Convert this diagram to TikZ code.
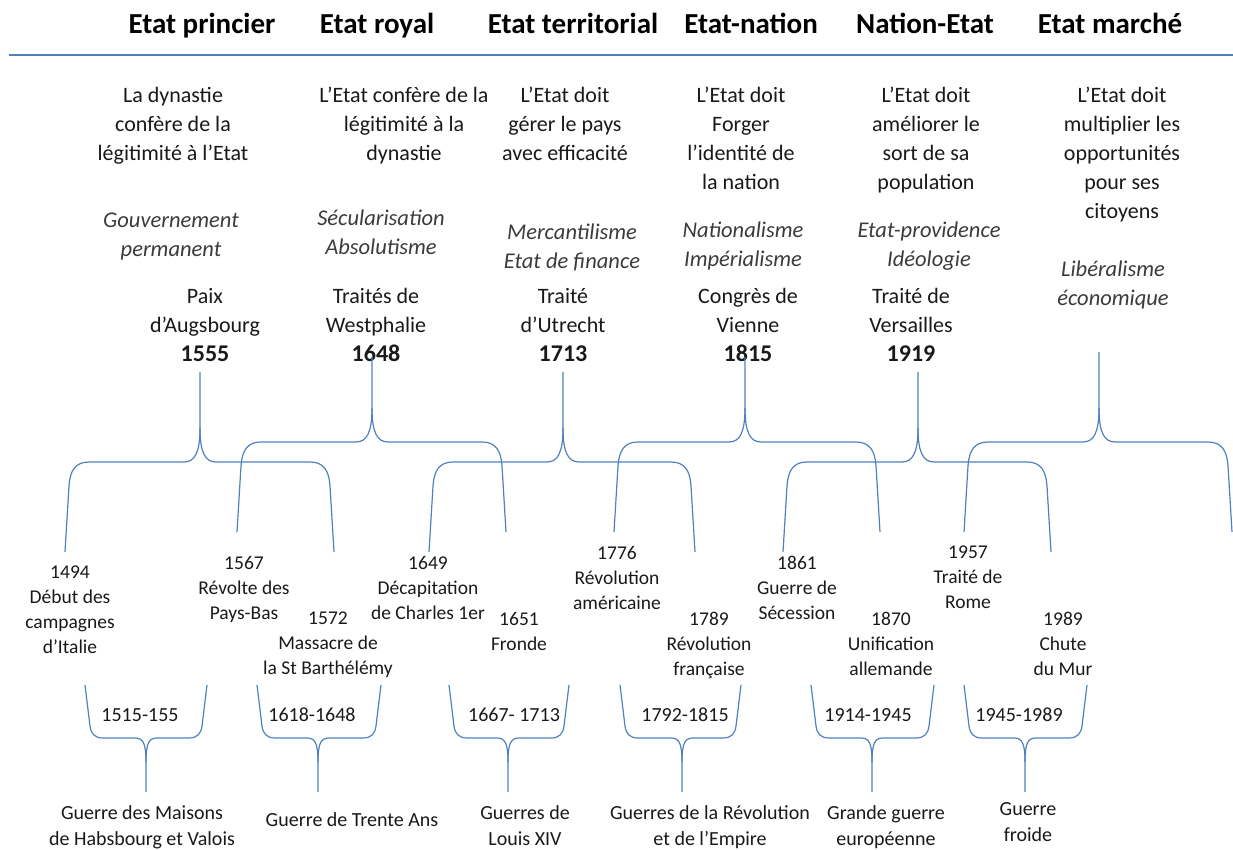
\documentclass[tikz,border=0pt]{standalone}
\usepackage{fontspec}
\setmainfont{Carlito}
\usepackage{tikz}
\usetikzlibrary{positioning}
\definecolor{lineblue}{RGB}{79,129,189}
\definecolor{ink}{RGB}{25,25,25}
\newcommand{\yr}[1]{{\fontsize{24}{29}\selectfont\bfseries #1}}
% brace opening downwards, tip on top: left x, right x, tip x, bar y, tip top y
\newcommand{\upbrace}[5]{%
  \draw[curly] (#1,#4+90) -- (#1+4,#4+24) .. controls (#1+5,#4+9) and (#1+10,#4) .. (#1+24,#4)
    -- (#3-16,#4) .. controls (#3-5,#4) and (#3,#4-10) .. (#3,#4-34) -- (#3,#5);
  \draw[curly] (#2,#4+90) -- (#2-4,#4+24) .. controls (#2-5,#4+9) and (#2-10,#4) .. (#2-24,#4)
    -- (#3+16,#4) .. controls (#3+5,#4) and (#3,#4-10) .. (#3,#4-34);
}
% brace opening upwards, tip below: left x, right x, tip x
\newcommand{\downbrace}[3]{%
  \draw[curly] (#1,685) -- (#1+5,726) .. controls (#1+6,734) and (#1+10,738) .. (#1+18,738)
    -- (#3-11,738) .. controls (#3-3,738) and (#3,743) .. (#3,762) -- (#3,792);
  \draw[curly] (#2,685) -- (#2-5,726) .. controls (#2-6,734) and (#2-10,738) .. (#2-18,738)
    -- (#3+11,738) .. controls (#3+3,738) and (#3,743) .. (#3,762);
}
\tikzset{
  hdr/.style={ font=\fontsize{29}{34}\selectfont\bfseries, anchor=base, inner sep=0pt, text=black }
}
\tikzset{
  aim/.style={ font=\fontsize{22}{29}\selectfont, align=center, anchor=north, inner sep=0pt, text=ink }
}
\tikzset{
  ideo/.style={ font=\fontsize{22.5}{29}\selectfont\itshape, align=center, anchor=north, inner sep=0pt, text=ink!85 }
}
\tikzset{
  treaty/.style={ aim }
}
\tikzset{
  evt/.style={ font=\fontsize{19.5}{25}\selectfont, align=center, anchor=north, inner sep=0pt, text=ink }
}
\tikzset{
  spanlbl/.style={ font=\fontsize{20}{24}\selectfont, inner sep=0pt, text=ink }
}
\tikzset{
  war/.style={ font=\fontsize{20}{26}\selectfont, align=center, anchor=north, inner sep=0pt, text=ink }
}
\tikzset{
  curly/.style={ draw=lineblue, line width=1.2pt }
}

\begin{document}
\begin{tikzpicture}[x=1pt, y=-1pt]
      \useasboundingbox (0,0) rectangle (1233,850);
      % titles
      \node[hdr] (princier) at (202,34) {Etat princier};
      \node[hdr] (royal) at (377,34) {Etat royal};
      \node[hdr] (territ) at (573,34) {Etat territorial};
      \node[hdr] (etatnat) at (751,34) {Etat-nation};
      \node[hdr] (natetat) at (925,34) {Nation-Etat};
      \node[hdr] (marche) at (1110,34) {Etat marché};
      \draw[curly] (9,55) -- (1233,55);

      \node[aim] (aimA) at (173,87) {La dynastie\\confère de la\\légitimité à l’Etat};
      \node[aim] (aimB) at (404,87) {L’Etat confère de la\\légitimité à la\\dynastie};
      \node[aim] (aimC) at (565,87) {L’Etat doit\\gérer le pays\\avec efficacité};
      \node[aim] (aimD) at (741,87) {L’Etat doit\\Forger\\l’identité de\\la nation};
      \node[aim] (aimE) at (926,87) {L’Etat doit\\améliorer le\\sort de sa\\population};
      \node[aim] (aimF) at (1122,87) {L’Etat doit\\multiplier les\\opportunités\\pour ses\\citoyens};

      \node[ideo] (ideoA) at (171,213) {Gouvernement\\permanent};
      \node[ideo] (ideoB) at (381,210) {Sécularisation\\Absolutisme};
      \node[ideo] (ideoC) at (572,224) {Mercantilisme\\Etat de finance};
      \node[ideo] (ideoD) at (743,222) {Nationalisme\\Impérialisme};
      \node[ideo] (ideoE) at (929,222) {Etat-providence\\Idéologie};
      \node[ideo] (ideoF) at (1113,261) {Libéralisme\\économique};

      \node[treaty] (paix) at (205,288) {Paix\\d’Augsbourg\\\yr{1555}};
      \node[treaty] (westph) at (376,288) {Traités de\\Westphalie\\\yr{1648}};
      \node[treaty] (utrecht) at (563,288) {Traité\\d’Utrecht\\\yr{1713}};
      \node[treaty] (vienne) at (748,288) {Congrès de\\Vienne\\\yr{1815}};
      \node[treaty] (versail) at (911,288) {Traité de\\Versailles\\\yr{1919}};

      % upper braces
      \upbrace{65}{334}{200}{462}{372}
      \upbrace{237}{506}{372}{442}{357}
      \upbrace{429}{695}{563}{462}{372}
      \upbrace{614}{880}{745}{442}{357}
      \upbrace{783}{1051}{918}{462}{372}
      \upbrace{964}{1232}{1099}{442}{352}

      % events
      \node[evt] (e1494) at (70,566) {1494\\Début des\\campagnes\\d’Italie};
      \node[evt] (e1567) at (244,556) {1567\\Révolte des\\Pays-Bas};
      \node[evt] (e1572) at (328,612) {1572\\Massacre de\\la St Barthélémy};
      \node[evt] (e1649) at (428,556) {1649\\Décapitation\\de Charles 1er};
      \node[evt] (e1651) at (519,612) {1651\\Fronde};
      \node[evt] (e1776) at (617,546) {1776\\Révolution\\américaine};
      \node[evt] (e1789) at (709,612) {1789\\Révolution\\française};
      \node[evt] (e1861) at (797,556) {1861\\Guerre de\\Sécession};
      \node[evt] (e1870) at (891,612) {1870\\Unification\\allemande};
      \node[evt] (e1957) at (968,546) {1957\\Traité de\\Rome};
      \node[evt] (e1989) at (1063,612) {1989\\Chute\\du Mur};

      % lower braces
      \downbrace{85}{207}{146}
      \downbrace{257}{381}{318}
      \downbrace{449}{569}{508}
      \downbrace{620}{741}{682}
      \downbrace{811}{934}{872}
      \downbrace{964}{1087}{1025}

      \node[spanlbl] (s1) at (140,715) {1515-155};
      \node[spanlbl] (s2) at (312,715) {1618-1648};
      \node[spanlbl] (s3) at (514,715) {1667- 1713};
      \node[spanlbl] (s4) at (685,715) {1792-1815};
      \node[spanlbl] (s5) at (868,715) {1914-1945};
      \node[spanlbl] (s6) at (1019,715) {1945-1989};

      \node[war] (habsb) at (142,805) {Guerre des Maisons\\de Habsbourg et Valois};
      \node[war] (trente) at (352,812) {Guerre de Trente Ans};
      \node[war] (louis) at (525,805) {Guerres de\\Louis XIV};
      \node[war] (revol) at (710,805) {Guerres de la Révolution\\et de l’Empire};
      \node[war] (grande) at (886,805) {Grande guerre\\européenne};
      \node[war] (froide) at (1028,802) {Guerre\\froide};
    \end{tikzpicture}
\end{document}
